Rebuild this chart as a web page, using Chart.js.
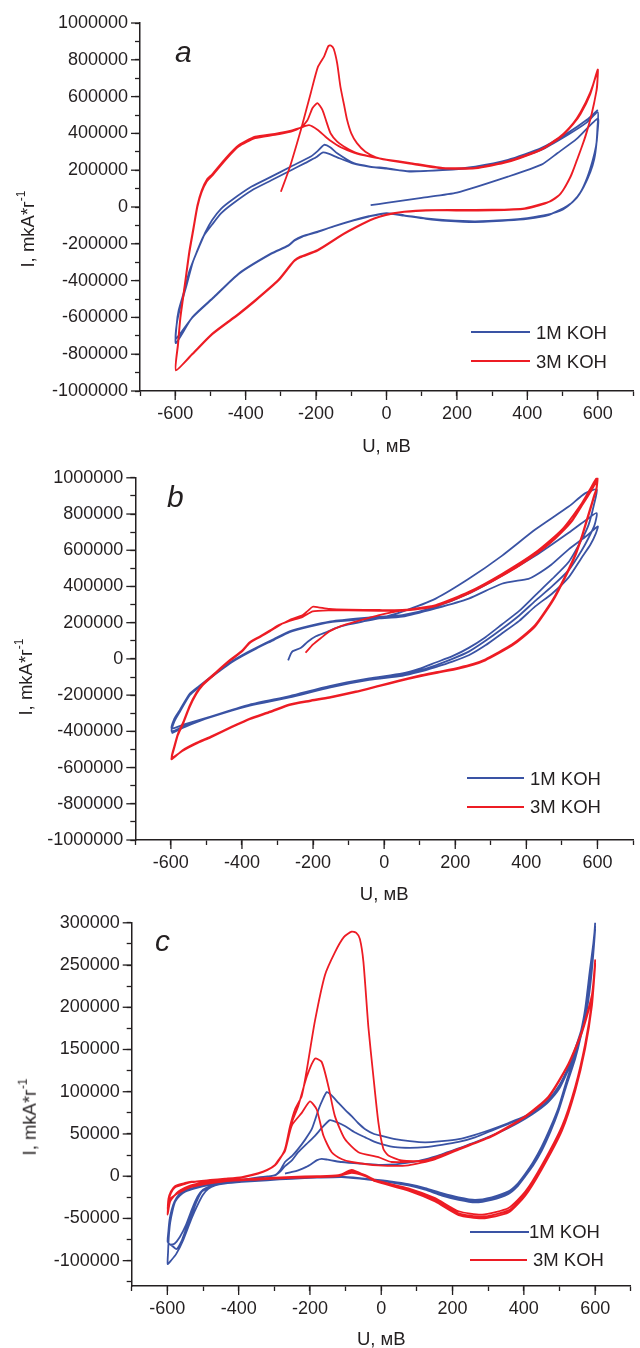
<!DOCTYPE html>
<html lang="ru">
<head>
<meta charset="UTF-8">
<title>CV curves, 1M and 3M KOH</title>
<script src="https://cdn.jsdelivr.net/npm/chart.js"></script>
<style>
    body {
        margin: 0;
        background: #fff;
        font-family: 'Liberation Sans', Arial, sans-serif;
        color: #231f20;
        overflow: hidden;
    }
    .page { position: relative; width: 640px; height: 1348px; }
    .panel { position: absolute; left: 0; width: 640px; }
    .ytitle {
        position: absolute;
        transform: translate(-50%, -50%) rotate(-90deg);
        white-space: nowrap;
        font-size: 18.5px;
        line-height: 1;
    }
    .ytitle sup { font-size: 12px; position: relative; top: -0.15em; vertical-align: super; line-height: 0; }
    .letter { position: absolute; font-size: 30px; line-height: 30px; font-style: italic; }
    .swatch { position: absolute; height: 2px; }
    .ltext { position: absolute; font-size: 18.5px; line-height: 20px; white-space: nowrap; }
</style>
</head>
<body>
<div class="page">
    <div class="panel" style="top:0; height:460px;"><canvas id="chartA"></canvas></div>
    <div class="panel" style="top:460px; height:452px;"><canvas id="chartB"></canvas></div>
    <div class="panel" style="top:905px; height:452px;"><canvas id="chartC"></canvas></div>

    <div class="ytitle" style="left:27.5px; top:229px;">I, mkA*г<sup>-1</sup></div>
    <div class="ytitle" style="left:25.5px; top:677px;">I, mkA*г<sup>-1</sup></div>
    <div class="ytitle" style="left:29.5px; top:1117px;">I, mkA*г<sup>-1</sup></div>

    <div class="letter" style="left:175px; top:37px;">a</div>
    <div class="letter" style="left:167px; top:482px;">b</div>
    <div class="letter" style="left:155px; top:926px;">c</div>

    <!-- легенды -->
    <div class="swatch" style="left:471px; top:331px; width:59px; background:#3a53a4;"></div>
    <div class="ltext" style="left:536px; top:323px;">1M KOH</div>
    <div class="swatch" style="left:471px; top:360px; width:59px; background:#ed1c24;"></div>
    <div class="ltext" style="left:536px; top:352px;">3M KOH</div>

    <div class="swatch" style="left:467px; top:777px; width:57px; background:#3a53a4;"></div>
    <div class="ltext" style="left:530px; top:769px;">1M KOH</div>
    <div class="swatch" style="left:467px; top:806px; width:57px; background:#ed1c24;"></div>
    <div class="ltext" style="left:530px; top:797px;">3M KOH</div>

    <div class="swatch" style="left:470px; top:1231px; width:59px; background:#3a53a4;"></div>
    <div class="ltext" style="left:529px; top:1222px;">1M KOH</div>
    <div class="swatch" style="left:470px; top:1259px; width:57px; background:#ed1c24;"></div>
    <div class="ltext" style="left:533px; top:1250px;">3M KOH</div>
</div>

<script>
    // ---- деления осей ----
    const uTicks = [-700, -600, -500, -400, -300, -200, -100, 0, 100, 200, 300, 400, 500, 600, 700];
    const uLabels = [-600, -400, -200, 0, 200, 400, 600];
    const iTicksAB = [-1000000, -900000, -800000, -700000, -600000, -500000, -400000, -300000, -200000, -100000, 0,
                      100000, 200000, 300000, 400000, 500000, 600000, 700000, 800000, 900000, 1000000];
    const iLabelsAB = [-1000000, -800000, -600000, -400000, -200000, 0, 200000, 400000, 600000, 800000, 1000000];
    const iTicksC = [-125000, -100000, -75000, -50000, -25000, 0, 25000, 50000, 75000, 100000,
                     125000, 150000, 175000, 200000, 225000, 250000, 275000, 300000];
    const iLabelsC = [-100000, -50000, 0, 50000, 100000, 150000, 200000, 250000, 300000];

    // ---- данные: [U, мВ ; I, mkA/г], по полуциклам ----

    // панель a, 1M KOH
    const aBlueInit = [[-45,10000],[0,22000],[100,50000],[200,78000],[345,165000],[440,230000],[485,292000],[540,370000],[600,480000]];
    const aBlueCat1 = [[599,400000],[595,330000],[585,250000],[570,160000],[551,80000],[530,30000],[500,-15000],[457,-42000],[400,-60000],[345,-70000],[252,-78000],[170,-72000],[112,-62000],[50,-45000],[0,-33000],[-50,-50000],[-93,-71000],[-150,-105000],[-196,-134000],[-240,-160000],[-261,-180000],[-280,-210000],[-327,-252000],[-420,-362000],[-490,-489000],[-551,-598000],[-598,-740000]];
    const aBlueAn1 = [[-596,-640000],[-590,-560000],[-575,-460000],[-560,-350000],[-540,-250000],[-520,-160000],[-495,-95000],[-470,-35000],[-439,15000],[-383,90000],[-327,145000],[-271,200000],[-230,240000],[-200,270000],[-182,296000],[-165,290000],[-140,270000],[-93,235000],[-47,218000],[0,208000],[65,195000],[159,200000],[252,215000],[345,250000],[439,310000],[513,390000],[569,460000],[600,515000]];
    const aBlueCat2 = [[599,430000],[596,340000],[590,260000],[579,190000],[560,110000],[540,50000],[513,5000],[457,-46000],[400,-64000],[345,-73000],[252,-82000],[170,-75000],[112,-64000],[50,-47000],[0,-34000],[-50,-52000],[-93,-73000],[-150,-106000],[-196,-136000],[-240,-162000],[-261,-182000],[-280,-212000],[-327,-254000],[-420,-364000],[-490,-491000],[-551,-600000],[-598,-716000]];
    const aBlueAn2 = [[-596,-640000],[-585,-540000],[-569,-434000],[-550,-300000],[-532,-216000],[-515,-140000],[-495,-71000],[-470,-10000],[-439,38000],[-383,111000],[-327,165000],[-271,220000],[-215,274000],[-195,305000],[-177,338000],[-160,325000],[-140,292000],[-93,238000],[-47,220000],[0,211000],[65,193000],[159,202000],[252,220000],[345,256000],[439,320000],[513,401000],[569,474000],[600,528000]];

    // панель a, 3M KOH
    const aRedInit = [[-300,83000],[-285,160000],[-271,238000],[-243,420000],[-215,620000],[-195,760000],[-177,819000],[-165,875000],[-158,878000],[-150,860000],[-140,780000],[-131,656000],[-120,550000],[-112,474000],[-100,400000],[-84,347000],[-60,300000],[-30,270000],[0,256000],[65,236000],[159,210000],[252,210000],[345,245000],[439,310000],[495,380000],[530,450000],[551,505000],[579,615000],[600,745000]];
    const aRedCat1 = [[599,680000],[597,638000],[583,510000],[565,383000],[541,256000],[523,165000],[495,74000],[470,35000],[457,25000],[392,-7000],[300,-15000],[200,-16000],[112,-17000],[50,-25000],[19,-34000],[-20,-52000],[-47,-71000],[-121,-144000],[-196,-234000],[-245,-270000],[-261,-289000],[-275,-320000],[-308,-398000],[-373,-507000],[-420,-580000],[-495,-688000],[-551,-797000],[-598,-888000]];
    const aRedAn1 = [[-592,-750000],[-585,-600000],[-572,-420000],[-560,-252000],[-548,-120000],[-537,0],[-525,80000],[-510,140000],[-495,170000],[-457,256000],[-420,328000],[-373,374000],[-317,392000],[-271,410000],[-245,430000],[-225,470000],[-210,538000],[-196,565000],[-182,528000],[-170,460000],[-159,401000],[-140,355000],[-121,329000],[-93,300000],[-65,283000],[-30,268000],[0,256000],[65,238000],[159,211000],[252,211000],[345,247000],[439,311000],[495,383000],[530,450000],[551,510000],[579,620000],[600,747000]];
    const aRedCat2 = [[599,690000],[596,630000],[582,500000],[563,375000],[540,250000],[521,160000],[493,70000],[455,22000],[392,-10000],[300,-18000],[200,-19000],[112,-19000],[50,-27000],[19,-36000],[-20,-54000],[-47,-73000],[-121,-147000],[-196,-238000],[-245,-274000],[-261,-293000],[-275,-324000],[-308,-402000],[-373,-511000],[-420,-584000],[-495,-692000],[-551,-800000],[-598,-885000]];
    const aRedAn2 = [[-592,-740000],[-585,-590000],[-572,-410000],[-560,-240000],[-548,-110000],[-537,10000],[-525,90000],[-510,150000],[-495,178000],[-457,265000],[-420,336000],[-373,382000],[-317,398000],[-271,415000],[-245,430000],[-220,445000],[-196,420000],[-175,385000],[-159,360000],[-130,325000],[-93,296000],[-50,275000],[0,258000],[65,240000],[159,213000],[252,213000],[345,249000],[439,314000],[495,386000],[530,455000],[551,515000],[579,625000],[600,740000]];

    // панель b, 1M KOH
    const bBlueInit = [[-270,-8000],[-262,30000],[-257,43000],[-234,61000],[-215,95000],[-192,125000],[-160,150000],[-136,170000],[-100,190000],[-61,206000],[-14,224000],[51,261000],[145,333000],[238,442000],[331,569000],[425,714000],[519,841000],[565,914000],[598,935000]];
    const bBlueCat1 = [[590,850000],[575,740000],[556,660000],[519,535000],[472,440000],[425,351000],[380,265000],[331,190000],[285,120000],[238,61000],[192,15000],[145,-20000],[98,-55000],[51,-80000],[-42,-108000],[-154,-150000],[-266,-205000],[-378,-252000],[-488,-318000],[-560,-360000],[-598,-385000]];
    const bBlueAn1 = [[-590,-330000],[-575,-283000],[-547,-193000],[-520,-150000],[-495,-111000],[-465,-65000],[-434,-20000],[-400,20000],[-360,61000],[-310,110000],[-266,152000],[-210,182000],[-154,206000],[-80,222000],[-14,233000],[51,242000],[145,288000],[238,361000],[331,460000],[425,569000],[519,696000],[570,770000],[598,805000]];
    const bBlueCat2 = [[592,740000],[578,680000],[556,600000],[519,490000],[472,400000],[425,320000],[380,240000],[331,165000],[285,100000],[238,40000],[192,0],[145,-35000],[98,-65000],[51,-88000],[-42,-112000],[-154,-155000],[-266,-210000],[-378,-256000],[-488,-320000],[-560,-370000],[-598,-400000]];
    const bBlueAn2 = [[-590,-345000],[-575,-293000],[-547,-200000],[-520,-155000],[-495,-115000],[-465,-70000],[-434,-25000],[-400,15000],[-360,57000],[-310,105000],[-266,148000],[-210,178000],[-154,202000],[-80,215000],[-14,224000],[51,233000],[145,279000],[238,333000],[331,415000],[406,442000],[425,460000],[470,520000],[519,605000],[570,680000],[601,732000]];
    const bBlueCat3 = [[595,690000],[580,630000],[556,560000],[519,450000],[472,360000],[425,290000],[380,210000],[331,140000],[285,75000],[238,20000],[192,-15000],[145,-45000],[98,-72000],[51,-93000],[-42,-116000],[-154,-158000],[-266,-213000],[-378,-258000],[-488,-322000],[-560,-375000],[-598,-410000]];

    // панель b, 3M KOH
    const bRedInit = [[-221,34000],[-200,80000],[-175,120000],[-154,152000],[-120,182000],[-80,206000],[-40,228000],[-14,242000],[51,268000],[145,297000],[238,370000],[331,469000],[425,587000],[500,714000],[556,860000],[580,940000],[598,1000000]];
    const bRedCat1 = [[597,940000],[590,900000],[584,860000],[570,770000],[556,678000],[540,590000],[519,497000],[481,351000],[455,270000],[425,188000],[390,125000],[359,79000],[320,35000],[285,-2000],[250,-28000],[210,-48000],[150,-72000],[98,-93000],[40,-120000],[-14,-147000],[-80,-180000],[-154,-211000],[-210,-230000],[-266,-251000],[-320,-290000],[-378,-329000],[-430,-375000],[-488,-429000],[-530,-465000],[-565,-501000],[-598,-555000]];
    const bRedAn1 = [[-590,-490000],[-580,-420000],[-565,-356000],[-548,-270000],[-528,-193000],[-510,-145000],[-486,-102000],[-460,-55000],[-434,-11000],[-400,40000],[-378,88000],[-350,120000],[-322,152000],[-295,185000],[-266,215000],[-229,242000],[-215,265000],[-201,288000],[-185,285000],[-154,276000],[-100,272000],[-14,270000],[51,270000],[100,280000],[145,297000],[190,330000],[238,368000],[285,415000],[331,465000],[380,522000],[425,580000],[465,640000],[500,705000],[530,770000],[556,850000],[580,930000],[600,1000000]];
    const bRedCat2 = [[597,930000],[590,890000],[584,850000],[570,760000],[556,670000],[540,580000],[519,488000],[481,342000],[455,262000],[425,180000],[390,118000],[359,72000],[320,28000],[285,-8000],[250,-33000],[210,-53000],[150,-77000],[98,-98000],[40,-124000],[-14,-151000],[-80,-184000],[-154,-215000],[-210,-234000],[-266,-255000],[-320,-294000],[-378,-333000],[-430,-379000],[-488,-433000],[-530,-470000],[-565,-506000],[-598,-545000]];
    const bRedAn2 = [[-590,-480000],[-580,-412000],[-565,-348000],[-548,-262000],[-528,-186000],[-510,-138000],[-486,-96000],[-460,-50000],[-434,-6000],[-400,45000],[-378,92000],[-350,124000],[-322,156000],[-295,188000],[-266,210000],[-229,232000],[-201,262000],[-154,268000],[-100,268000],[-14,266000],[51,266000],[100,276000],[145,292000],[190,322000],[238,362000],[285,408000],[331,458000],[380,515000],[425,575000],[465,635000],[500,700000],[530,765000],[556,845000],[580,920000],[600,990000]];

    // панель c, 1M KOH
    const cBlueInit = [[-270,3100],[-250,5000],[-233,7000],[-210,11000],[-195,14800],[-180,19000],[-167,20600],[-150,19500],[-130,18000],[-111,16800],[-60,15000],[-8,13500],[40,14000],[76,16000],[123,20000],[170,26000],[217,33000],[263,40000],[310,48000],[357,57000],[404,68000],[440,78000],[469,88000],[500,104000],[525,126000],[545,145000],[563,172000],[578,200000],[590,240000],[600,292000]];
    const cBlueCat1 = [[595,270000],[585,238000],[572,193000],[560,166000],[544,139000],[520,108000],[497,77000],[475,53000],[450,30000],[425,12000],[404,0],[380,-13000],[357,-21000],[310,-28000],[263,-31000],[217,-28000],[170,-23000],[123,-16000],[76,-11000],[30,-7500],[-17,-5000],[-60,-2800],[-111,-1000],[-180,-1800],[-251,-3000],[-320,-4800],[-391,-6800],[-440,-8800],[-466,-11000],[-485,-15000],[-500,-22000],[-515,-34000],[-532,-50000],[-555,-75000],[-575,-92000],[-590,-100000],[-599,-104000]];
    const cBlueAn1 = [[-598,-90000],[-596,-72000],[-592,-55000],[-585,-40000],[-578,-30000],[-565,-23000],[-550,-18200],[-520,-14000],[-485,-10500],[-440,-8000],[-391,-4700],[-345,-2000],[-298,1200],[-282,8000],[-270,16800],[-250,24000],[-233,32300],[-214,43000],[-195,55600],[-176,78900],[-165,90000],[-153,99500],[-140,96000],[-120,86700],[-100,78000],[-83,71100],[-65,63000],[-45,55600],[-20,50000],[1,47800],[39,43900],[80,41500],[123,40100],[170,41500],[217,43900],[263,49000],[310,55600],[357,63000],[404,71100],[440,80000],[469,90600],[500,108000],[525,129400],[545,152000],[563,176000],[576,203000],[586,234300],[594,265000],[600,300000]];
    const cBlueCat2 = [[595,273000],[585,240000],[572,195000],[560,168000],[544,141000],[520,110000],[497,78900],[475,55000],[450,32300],[425,14000],[404,1200],[380,-12000],[357,-20000],[310,-27000],[263,-30000],[217,-27000],[170,-22000],[123,-15000],[76,-10500],[30,-7000],[-17,-4700],[-60,-2500],[-111,-700],[-180,-1500],[-251,-2700],[-320,-4500],[-391,-6500],[-440,-8500],[-466,-10500],[-490,-15000],[-503,-18200],[-518,-30000],[-532,-45400],[-548,-63000],[-560,-76500],[-574,-86200],[-588,-82000],[-599,-78000]];
    const cBlueAn2 = [[-597,-65000],[-594,-52000],[-588,-40000],[-580,-30000],[-568,-22000],[-550,-17000],[-520,-13000],[-485,-10000],[-440,-7500],[-391,-4500],[-345,-1500],[-298,1000],[-282,6000],[-270,12000],[-250,19000],[-233,28400],[-210,38000],[-186,47800],[-165,58000],[-144,66400],[-125,64000],[-102,59400],[-75,52000],[-45,45900],[-20,41000],[1,38100],[39,34300],[80,33500],[123,34300],[170,37000],[217,40500],[263,46000],[310,54000],[357,62000],[404,70000],[440,78000],[469,89000],[500,106000],[525,127000],[545,150000],[563,173000],[576,200000],[586,232000],[594,262000],[600,296000]];
    const cBlueCat3 = [[595,276000],[585,243000],[572,198000],[560,171000],[544,144000],[520,113000],[497,81000],[475,58000],[450,35000],[425,16000],[404,3000],[380,-10000],[357,-18000],[310,-25000],[263,-28000],[217,-25000],[170,-20000],[123,-14000],[76,-9500],[30,-6500],[-17,-4200],[-60,-2200],[-111,-500],[-180,-1200],[-251,-2400],[-320,-4200],[-391,-6000],[-440,-8000],[-480,-12000],[-500,-16000],[-515,-24000],[-530,-38000],[-548,-58000],[-565,-72000],[-580,-80000],[-592,-81000],[-599,-80000]];

    // панель c, 3M KOH
    const cRedInit = [[-300,12000],[-285,20000],[-270,32000],[-256,59000],[-242,79000],[-223,95000],[-209,125500],[-186,183800],[-158,238000],[-130,265000],[-105,283000],[-83,289500],[-70,288000],[-60,281000],[-50,253700],[-36,176000],[-22,117700],[-8,63400],[6,32300],[20,24500],[57,18600],[123,18600],[217,32300],[310,47800],[404,71100],[469,94400],[525,133300],[563,172100],[591,214900],[600,255700]];
    const cRedCat1 = [[591,207100],[572,156600],[544,106000],[507,59400],[450,12800],[404,-18200],[357,-37600],[283,-45400],[217,-41500],[151,-26000],[76,-14300],[-17,-4700],[-45,1200],[-83,6000],[-120,1200],[-180,0],[-251,-700],[-345,-2700],[-438,-4700],[-532,-10500],[-569,-18200],[-592,-29800],[-599,-45400]];
    const cRedAn1 = [[-597,-30000],[-590,-20000],[-578,-13000],[-550,-9000],[-532,-7000],[-480,-5000],[-438,-3500],[-391,-1500],[-345,3100],[-320,7000],[-298,12800],[-285,20000],[-270,32300],[-251,63400],[-233,82800],[-209,117700],[-186,139200],[-167,135200],[-148,106000],[-130,71100],[-102,43900],[-64,28400],[-8,22600],[29,16800],[123,18600],[217,32300],[310,47800],[404,71100],[469,94400],[525,133300],[563,172100],[591,214900],[600,252000]];
    const cRedCat2 = [[591,204000],[572,153000],[544,103000],[507,56000],[450,10000],[404,-21000],[357,-40500],[283,-48000],[217,-44000],[151,-28000],[76,-16000],[-17,-5500],[-45,500],[-83,7500],[-120,500],[-180,-700],[-251,-1500],[-345,-3500],[-438,-5500],[-532,-11500],[-569,-19500],[-592,-28000],[-599,-40000]];
    const cRedAn2 = [[-597,-27000],[-590,-18000],[-578,-11500],[-550,-8000],[-532,-6500],[-480,-4500],[-438,-3000],[-391,-1000],[-345,3500],[-320,7500],[-298,13500],[-285,21000],[-270,30000],[-251,60000],[-223,75000],[-200,88600],[-181,79000],[-162,47800],[-139,28400],[-110,20000],[-83,16800],[-8,12800],[76,12800],[150,20000],[217,31500],[310,47000],[404,70000],[469,93000],[525,132000],[563,170000],[591,212000],[600,250000]];
    const cRedCat3 = [[591,202000],[572,151000],[544,101000],[507,54000],[450,8000],[404,-23000],[357,-43000],[283,-50000],[217,-46000],[151,-30000],[76,-17000],[-17,-6000],[-45,0],[-83,4000],[-120,0],[-180,-1200],[-251,-2000],[-345,-4000],[-438,-6000],[-532,-12500],[-569,-20000],[-592,-27000],[-599,-36000]];

    const BLUE = '#3a53a4';
    const RED = '#ed1c24';
    const INK = '#231f20';
    const MAJOR_LEN = 9;

    Chart.defaults.font.family = "'Liberation Sans', Arial, sans-serif";
    Chart.defaults.color = INK;

    function toXY(...parts) {
        return parts.flat().map(p => ({ x: p[0], y: p[1] }));
    }

    // большие риски для подписанных делений
    const majorTicks = {
        id: 'majorTicks',
        afterDraw(chart) {
            const ctx = chart.ctx;
            ctx.save();
            ctx.strokeStyle = INK;
            ctx.lineWidth = 1.3;
            ['x', 'y'].forEach(id => {
                const s = chart.scales[id];
                s.ticks.forEach((t, k) => {
                    if (t.label === '') return;
                    const p = s.getPixelForTick(k);
                    ctx.beginPath();
                    if (s.isHorizontal()) {
                        ctx.moveTo(p, s.top);
                        ctx.lineTo(p, s.top + MAJOR_LEN);
                    } else {
                        ctx.moveTo(s.right - MAJOR_LEN, p);
                        ctx.lineTo(s.right, p);
                    }
                    ctx.stroke();
                });
            });
            ctx.restore();
        }
    };

    function axis(min, max, ticks, labels) {
        return {
            type: 'linear', min: min, max: max,
            afterBuildTicks: s => { s.ticks = ticks.map(v => ({ value: v })); },
            ticks: {
                autoSkip: false, maxRotation: 0, padding: 7,
                font: { size: 18 },
                callback: v => labels.includes(v) ? String(v) : ''
            },
            grid: { drawOnChartArea: false, tickLength: 5, tickColor: INK, tickWidth: 1.3 },
            border: { color: INK, width: 1.5 }
        };
    }

    function makePanel(id, red, blue, cfg) {
        const x = axis(-700, 700, uTicks, uLabels);
        x.title = { display: true, text: 'U, мВ', font: { size: 18.5 }, padding: { top: 0, bottom: cfg.titlePad } };
        x.afterFit = s => { s.height = cfg.xh; };
        const y = axis(cfg.ymin, cfg.ymax, cfg.yticks, cfg.ylabels);
        y.afterFit = s => { s.width = cfg.yw; };

        return new Chart(document.getElementById(id), {
            type: 'scatter',
            data: {
                datasets: [
                    { label: '3M KOH', data: red, borderColor: RED },
                    { label: '1M KOH', data: blue, borderColor: BLUE }
                ].map(d => Object.assign(d, { showLine: true, pointRadius: 0, borderWidth: 1.8, tension: 0.2, fill: false }))
            },
            options: {
                responsive: true,
                maintainAspectRatio: false,
                animation: false,
                events: [],
                layout: { padding: { top: cfg.top, right: cfg.right, left: 0, bottom: 0 } },
                plugins: { legend: { display: false }, tooltip: { enabled: false } },
                scales: { x: x, y: y }
            },
            plugins: [majorTicks]
        });
    }

    makePanel('chartA',
        toXY(aRedInit, aRedCat1, aRedAn1, aRedCat2, aRedAn2),
        toXY(aBlueInit, aBlueCat1, aBlueAn1, aBlueCat2, aBlueAn2),
        { top: 23, right: 0, xh: 69, yw: 140, titlePad: 2.2, ymin: -1000000, ymax: 1000000, yticks: iTicksAB, ylabels: iLabelsAB });

    makePanel('chartB',
        toXY(bRedInit, bRedCat1, bRedAn1, bRedCat2, bRedAn2),
        toXY(bBlueInit, bBlueCat1, bBlueAn1, bBlueCat2, bBlueAn2, bBlueCat3),
        { top: 12.5, right: 5.3, xh: 72, yw: 135.3, titlePad: 5.9, ymin: -1000000, ymax: 1000000, yticks: iTicksAB, ylabels: iLabelsAB });

    makePanel('chartC',
        toXY(cRedInit, cRedCat1, cRedAn1, cRedCat2, cRedAn2, cRedCat3),
        toXY(cBlueInit, cBlueCat1, cBlueAn1, cBlueCat2, cBlueAn2, cBlueCat3),
        { top: 11, right: 9.2, xh: 71, yw: 131.7, titlePad: 5.9, ymin: -130000, ymax: 300000, yticks: iTicksC, ylabels: iLabelsC });
</script>
</body>
</html>
